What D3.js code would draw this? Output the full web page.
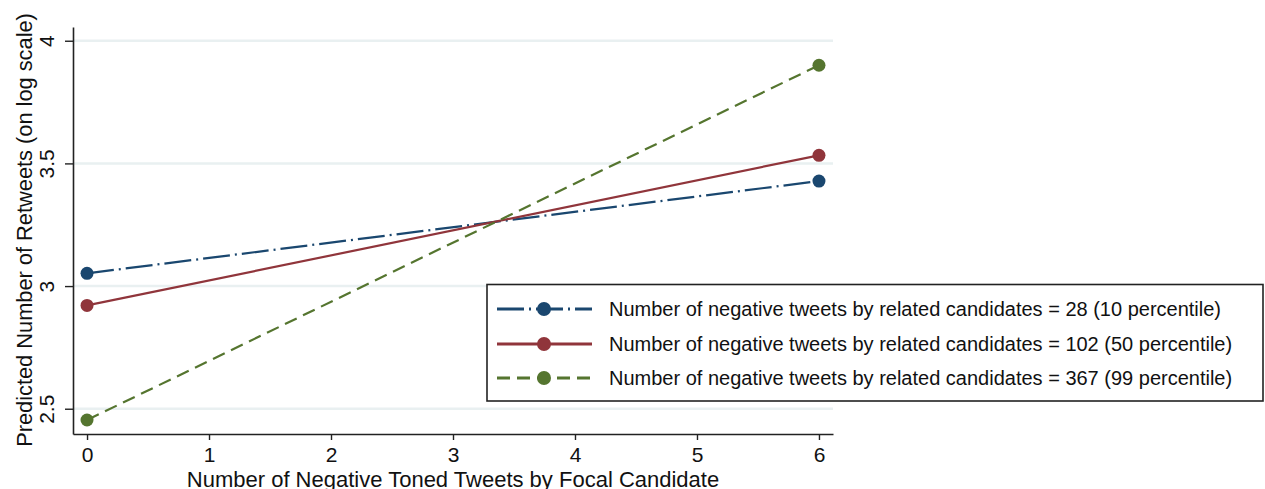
<!DOCTYPE html>
<html>
<head>
<meta charset="utf-8">
<script src="https://cdn.jsdelivr.net/npm/d3@7"></script>
<style>
  html, body { margin: 0; padding: 0; background: #fff; }
  svg { display: block; font-family: "Liberation Sans", Arial, sans-serif; }
</style>
</head>
<body>
<svg id="chart" width="1265" height="489"></svg>
<script>
// Predicted retweets (log scale) by number of negative tweets from the focal candidate
const xValues = [0, 6];
const xTicks = [0, 1, 2, 3, 4, 5, 6];
const yTicks = [2.5, 3, 3.5, 4];
const seriesLabels = [
  "Number of negative tweets by related candidates = 28 (10 percentile)",
  "Number of negative tweets by related candidates = 102 (50 percentile)",
  "Number of negative tweets by related candidates = 367 (99 percentile)"
];
const p10Values = [3.052, 3.428];
const p50Values = [2.921, 3.533];
const p99Values = [2.454, 3.900];

const series = [
  { label: seriesLabels[0], values: p10Values, color: "#1a476f", dash: "27,5,2,5" },
  { label: seriesLabels[1], values: p50Values, color: "#90353b", dash: null },
  { label: seriesLabels[2], values: p99Values, color: "#55752f", dash: "13,7" }
];

const svg = d3.select("#chart");
const plot = { left: 73, right: 833, top: 27, bottom: 434 };

const x = d3.scaleLinear().domain([-0.115, 6.115]).range([plot.left, plot.right]);
const y = d3.scaleLinear().domain([2.397, 4.056]).range([plot.bottom, plot.top]);

// gridlines
svg.append("g")
  .selectAll("line")
  .data(yTicks)
  .join("line")
  .attr("x1", plot.left).attr("x2", plot.right)
  .attr("y1", d => y(d)).attr("y2", d => y(d))
  .attr("stroke", "#e9f0f1")
  .attr("stroke-width", 2.5);

// x axis
const xAxis = svg.append("g")
  .attr("transform", `translate(0,${plot.bottom})`)
  .call(d3.axisBottom(x).tickValues(xTicks).tickFormat(d3.format("d")).tickSize(6).tickSizeOuter(0));
xAxis.select(".domain").attr("stroke", "#222").attr("stroke-width", 1.6);
xAxis.selectAll(".tick line").attr("stroke", "#222").attr("stroke-width", 1.4);
xAxis.selectAll(".tick text")
  .attr("font-size", 21).attr("fill", "#111").attr("font-family", "Liberation Sans, Arial, sans-serif")
  .attr("dy", null).attr("y", 27.5);

// y axis with rotated tick labels
const yAxis = svg.append("g")
  .attr("transform", `translate(${plot.left},0)`)
  .call(d3.axisLeft(y).tickValues(yTicks).tickFormat(d => d3.format("")(d)).tickSize(8).tickSizeOuter(0));
yAxis.select(".domain").attr("stroke", "#222").attr("stroke-width", 1.6);
yAxis.selectAll(".tick line").attr("stroke", "#222").attr("stroke-width", 1.4);
yAxis.selectAll(".tick text")
  .attr("font-size", 21).attr("fill", "#111").attr("font-family", "Liberation Sans, Arial, sans-serif")
  .attr("x", null).attr("dy", null)
  .attr("text-anchor", "middle")
  .attr("transform", "translate(-19.5,0) rotate(-90)");

// axis titles (x title sits on the bottom edge of the canvas)
svg.append("text")
  .attr("x", 453)
  .attr("y", 486.5)
  .attr("text-anchor", "middle")
  .attr("font-size", 22)
  .attr("fill", "#111")
  .text("Number of Negative Toned Tweets by Focal Candidate");

svg.append("text")
  .attr("transform", `translate(32,230) rotate(-90)`)
  .attr("text-anchor", "middle")
  .attr("font-size", 21.8)
  .attr("fill", "#111")
  .text("Predicted Number of Retweets (on log scale)");

// lines and markers
const line = d3.line().x((d, i) => x(xValues[i])).y(d => y(d));
const marks = svg.append("g");
series.forEach(s => {
  marks.append("path")
    .datum(s.values)
    .attr("d", line)
    .attr("fill", "none")
    .attr("stroke", s.color)
    .attr("stroke-width", 2.2)
    .attr("stroke-dasharray", s.dash);
  marks.selectAll(null)
    .data(s.values)
    .join("circle")
    .attr("cx", (d, i) => x(xValues[i]))
    .attr("cy", d => y(d))
    .attr("r", 6.5)
    .attr("fill", s.color);
});

// legend
const legend = svg.append("g");
legend.append("rect")
  .attr("x", 487).attr("y", 284.5)
  .attr("width", 776).attr("height", 116.5)
  .attr("fill", "#fff")
  .attr("stroke", "#222")
  .attr("stroke-width", 1.6);
const rowY = [309, 344, 378];
series.forEach((s, i) => {
  const g = legend.append("g").attr("transform", `translate(0,${rowY[i]})`);
  g.append("line")
    .attr("x1", 497).attr("x2", 592).attr("y1", 0).attr("y2", 0)
    .attr("stroke", s.color).attr("stroke-width", 3)
    .attr("stroke-dasharray", s.dash);
  g.append("circle").attr("cx", 544).attr("cy", 0).attr("r", 7).attr("fill", s.color);
  g.append("text")
    .attr("x", 609).attr("y", 0).attr("dy", "0.36em")
    .attr("font-size", 20)
    .attr("fill", "#111")
    .text(s.label);
});
</script>
</body>
</html>
